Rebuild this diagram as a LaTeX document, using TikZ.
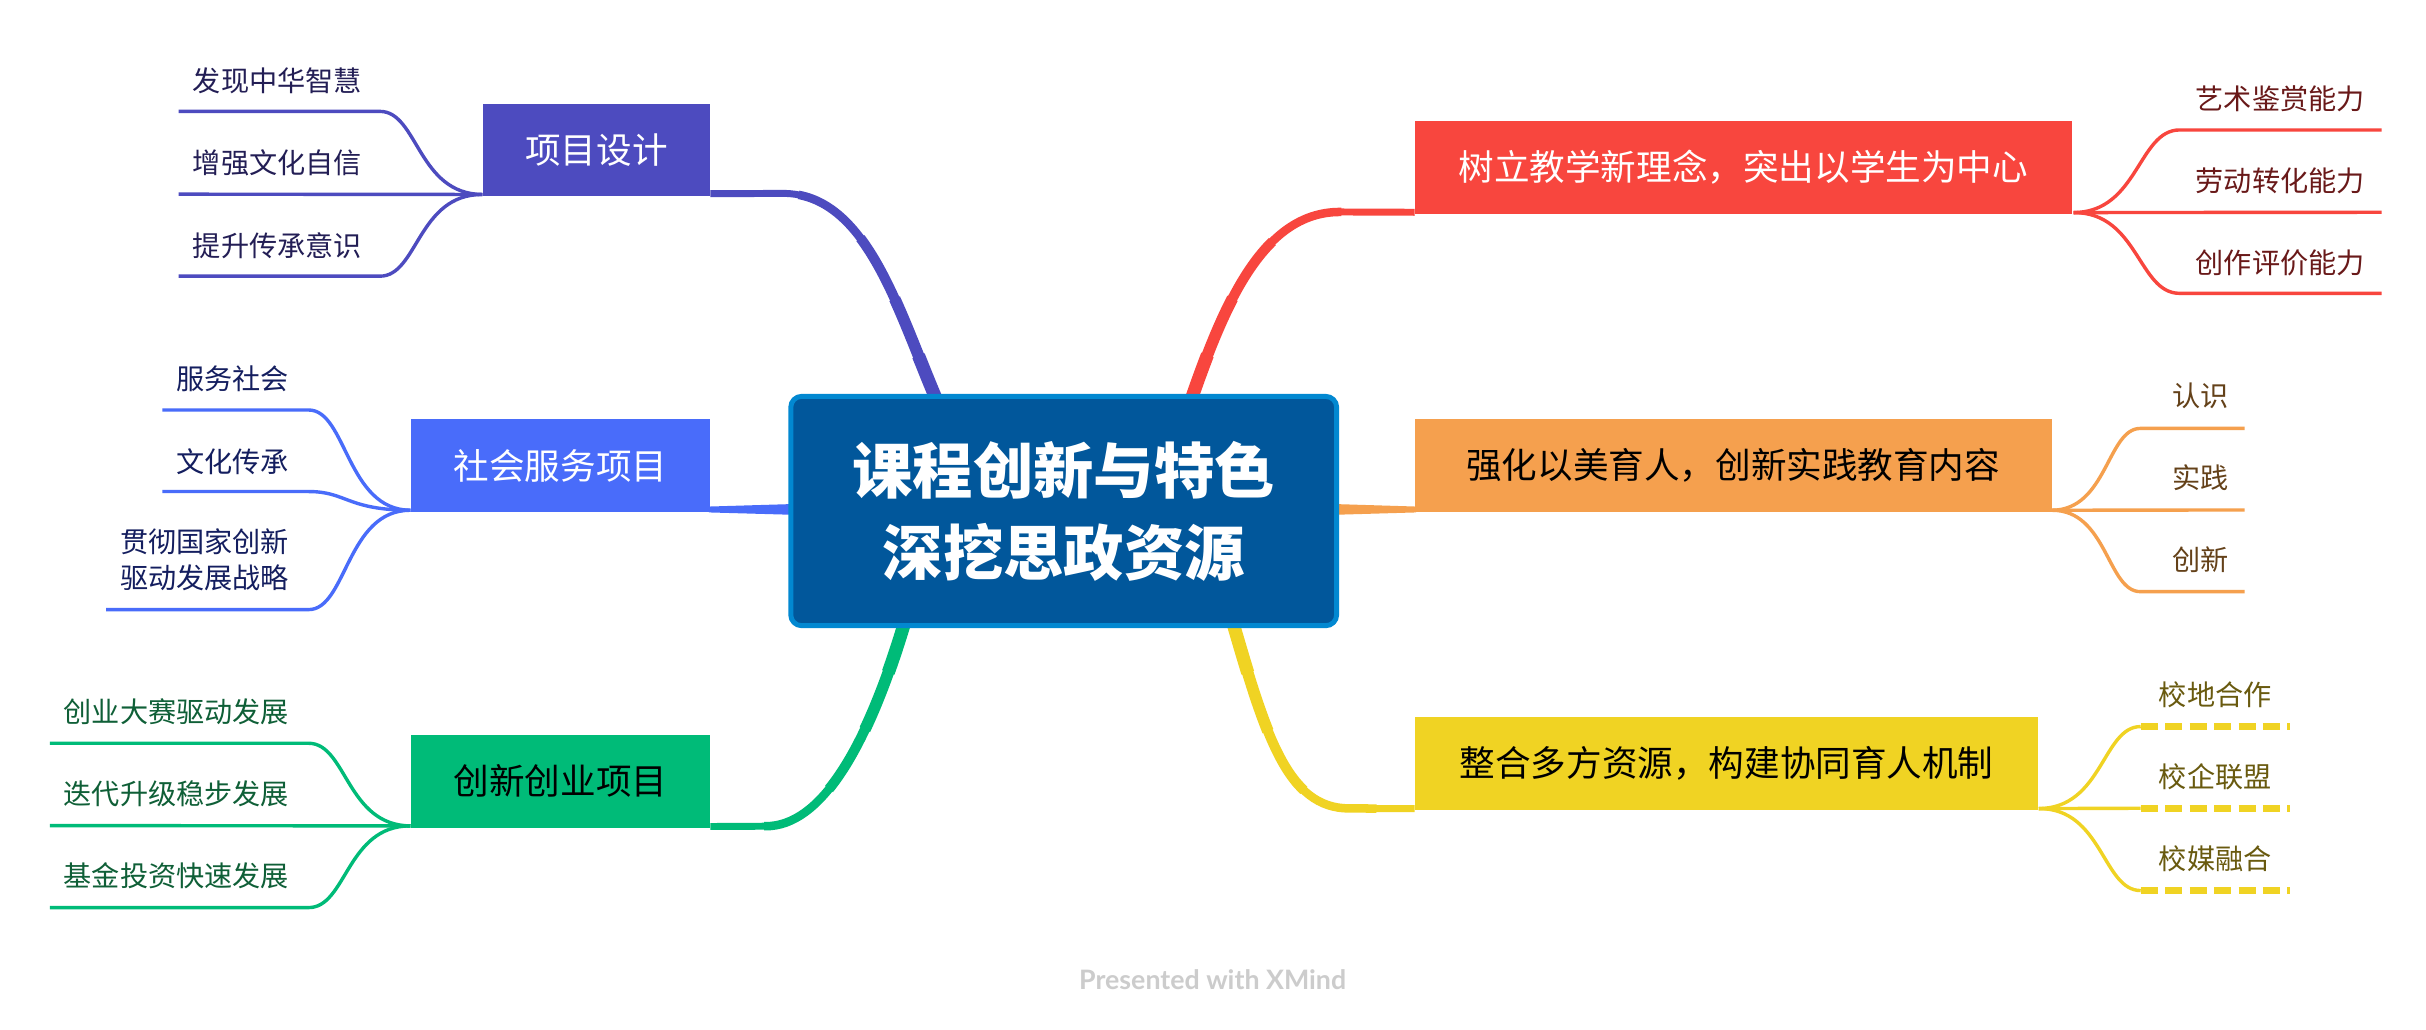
\documentclass[tikz,border=0pt]{standalone}
\usepackage{fontspec}
\newfontfamily\cjk{Noto Sans CJK SC}
\newfontfamily\footfont{Lato}
\usetikzlibrary{calc}
\definecolor{cPur}{RGB}{77,75,191}
\definecolor{cBlu}{RGB}{73,108,250}
\definecolor{cGrn}{RGB}{0,187,120}
\definecolor{cRed}{RGB}{248,70,62}
\definecolor{cOrg}{RGB}{245,160,78}
\definecolor{cYel}{RGB}{240,211,35}
\definecolor{cCenF}{RGB}{1,87,155}
\definecolor{cCenB}{RGB}{2,136,209}
\definecolor{tPur}{RGB}{35,30,85}
\definecolor{tBlu}{RGB}{20,30,95}
\definecolor{tGrn}{RGB}{15,95,55}
\definecolor{tRed}{RGB}{105,25,25}
\definecolor{tOrg}{RGB}{100,65,25}
\definecolor{tYel}{RGB}{105,90,15}
\definecolor{cFoot}{RGB}{204,204,204}
\newcommand\taperdraw[2]{%
  \draw[#1,line width=4.5pt] #2;
  \draw[#1,line width=5.5pt,dash pattern=on 170pt off 3000pt] #2;
  \draw[#1,line width=6.5pt,dash pattern=on 120pt off 3000pt] #2;
  \draw[#1,line width=7.5pt,dash pattern=on 75pt off 3000pt] #2;
  \draw[#1,line width=8.5pt,dash pattern=on 35pt off 3000pt] #2;}
\begin{document}
\begin{tikzpicture}[x=1pt,y=-1pt,line join=round,
  topic/.style={rectangle,fill=#1,minimum height=60pt,inner sep=0pt,
    font=\cjk\fontsize{23}{28}\selectfont},
  subt/.style={inner sep=0pt,align=right,font=\cjk\fontsize{18.2}{23.2}\selectfont},
  subline/.style={draw=#1,line width=2.2pt},
  dashline/.style={draw=#1,line width=4.3pt,dash pattern=on 11pt off 4.8pt}]
\fill[white] (0,0) rectangle (1568,665.7);
\useasboundingbox (0,0) rectangle (1568,665.7);

% main topics
\node[topic=cPur,minimum width=147pt,text=white] (T1) at (385.5,97) {项目设计};
\node[topic=cBlu,minimum width=193.5pt,text=white] (T2) at (362.25,301) {社会服务项目};
\node[topic=cGrn,minimum width=193.5pt,text=black] (T3) at (362.25,505) {创新创业项目};
\node[topic=cRed,minimum width=424.5pt,text=white] (T4) at (1126.75,108) {树立教学新理念，突出以学生为中心};
\node[topic=cOrg,minimum width=411.5pt,text=black] (T5) at (1120.25,301) {强化以美育人，创新实践教育内容};
\node[topic=cYel,minimum width=403pt,text=black] (T6) at (1116,493.5) {整合多方资源，构建协同育人机制};

% central node placeholder coordinates (node drawn later, on top)
\path (687.5,330.3) coordinate (Cc);
\coordinate (s1) at ($(Cc)+(-80.5,-68)$);
\coordinate (s4) at ($(Cc)+(81,-68)$);
\coordinate (s3) at ($(Cc)+(-102.5,71)$);
\coordinate (s6) at ($(Cc)+(109,71)$);

% main connectors
\taperdraw{cPur}{(s1) .. controls (581,203) and (561,125) .. (506,125) -- ($(T1.south east)+(0,-2)$)}
\taperdraw{cRed}{(s4) .. controls (790,200) and (815,137) .. (866,137) -- ($(T4.south west)+(0,-1)$)}
\taperdraw{cGrn}{(s3) .. controls (560,485) and (530,534) .. (495,534) -- ($(T3.south east)+(0,-1)$)}
\taperdraw{cYel}{(s6) .. controls (818,475) and (832,522.5) .. (872,522.5) -- ($(T6.south west)+(0,-1)$)}
\fill[cBlu] ($(T2.south east)+(-1,0)$) -- ($(T2.south east)+(-1,-3.8)$) -- (515,325.7) -- (515,332.8) -- cycle;
\fill[cOrg] ($(T5.south west)+(1,0)$) -- ($(T5.south west)+(1,-3.8)$) -- (860,325.7) -- (860,332.8) -- cycle;

% central node
\node[draw=cCenB,fill=cCenF,line width=3.2pt,rounded corners=7pt,
  minimum width=352.8pt,minimum height=148.2pt,inner sep=0pt,align=center,
  text=white,font=\cjk\bfseries\fontsize{39}{53}\selectfont] (C) at (Cc)
  {课程创新与特色\\深挖思政资源};

% T1 subtopics
\coordinate (j1) at ($(T1.south west)+(0,-1.5)$);
\coordinate (e11) at (115.4,72);
\coordinate (e12) at (115.4,125.5);
\coordinate (e13) at (115.4,178.5);
\draw[subline=cPur] (j1) .. controls (270,125.5) and (270,72) .. (245.6,72) -- (e11);
\draw[subline=cPur] (j1) -- (e12);
\draw[subline=cPur] (j1) .. controls (270,125.5) and (270,178.5) .. (245.6,178.5) -- (e13);
\node[subt,text=tPur,anchor=west] (a11) at (124.5,52) {发现中华智慧};
\node[subt,text=tPur,anchor=west] (a12) at (124.5,105.5) {增强文化自信};
\node[subt,text=tPur,anchor=west] (a13) at (124.5,158.5) {提升传承意识};

% T2 subtopics
\coordinate (j2) at ($(T2.south west)+(0,-1.4)$);
\coordinate (e21) at (104.9,265);
\coordinate (e22) at (104.9,317.7);
\coordinate (e23) at (68.6,394);
\draw[subline=cBlu] (j2) .. controls (224,329.6) and (224,265) .. (199.5,265) -- (e21);
\draw[subline=cBlu] (j2) .. controls (224,329.6) and (224,317.7) .. (199.5,317.7) -- (e22);
\draw[subline=cBlu] (j2) .. controls (224,329.6) and (224,394) .. (199.5,394) -- (e23);
\node[subt,text=tBlu,anchor=east] (a21) at (187,244.5) {服务社会};
\node[subt,text=tBlu,anchor=east] (a22) at (187,298.5) {文化传承};
\node[subt,text=tBlu,anchor=east] (a23) at (187,362) {贯彻国家创新\\驱动发展战略};

% T3 subtopics
\coordinate (j3) at ($(T3.south west)+(0,-1.4)$);
\coordinate (e31) at (32.3,480.4);
\coordinate (e32) at (32.3,533.6);
\coordinate (e33) at (32.3,586.6);
\draw[subline=cGrn] (j3) .. controls (224,533.6) and (224,480.4) .. (199.5,480.4) -- (e31);
\draw[subline=cGrn] (j3) -- (e32);
\draw[subline=cGrn] (j3) .. controls (224,533.6) and (224,586.6) .. (199.5,586.6) -- (e33);
\node[subt,text=tGrn,anchor=east] (a31) at (187,460) {创业大赛驱动发展};
\node[subt,text=tGrn,anchor=east] (a32) at (187,513) {迭代升级稳步发展};
\node[subt,text=tGrn,anchor=east] (a33) at (187,566) {基金投资快速发展};

% T4 subtopics
\coordinate (j4) at ($(T4.south east)+(1,-0.8)$);
\coordinate (e41) at (1539.3,84);
\coordinate (e42) at (1539.3,137.2);
\coordinate (e43) at (1539.3,189.6);
\draw[subline=cRed] (j4) .. controls (1382,137.2) and (1382,84) .. (1408.7,84) -- (e41);
\draw[subline=cRed] (j4) -- (e42);
\draw[subline=cRed] (j4) .. controls (1382,137.2) and (1382,189.6) .. (1408.7,189.6) -- (e43);
\node[subt,text=tRed,anchor=west] (a41) at (1419,63.8) {艺术鉴赏能力};
\node[subt,text=tRed,anchor=west] (a42) at (1419,116.7) {劳动转化能力};
\node[subt,text=tRed,anchor=west] (a43) at (1419,169.7) {创作评价能力};

% T5 subtopics
\coordinate (j5) at ($(T5.south east)+(0,-1.4)$);
\coordinate (e51) at (1450.8,276.9);
\coordinate (e52) at (1450.8,329.6);
\coordinate (e53) at (1450.8,382.4);
\draw[subline=cOrg] (j5) .. controls (1362,329.6) and (1362,276.9) .. (1383.4,276.9) -- (e51);
\draw[subline=cOrg] (j5) -- (e52);
\draw[subline=cOrg] (j5) .. controls (1362,329.6) and (1362,382.4) .. (1383.4,382.4) -- (e53);
\node[subt,text=tOrg,anchor=west] (a51) at (1403.8,255.8) {认识};
\node[subt,text=tOrg,anchor=west] (a52) at (1403.8,309) {实践};
\node[subt,text=tOrg,anchor=west] (a53) at (1403.8,361.8) {创新};

% T6 subtopics
\coordinate (j6) at ($(T6.south east)+(0,-1.1)$);
\coordinate (k61) at (1383.6,469.6);
\coordinate (k62) at (1383.6,522.4);
\coordinate (k63) at (1383.6,575.6);
\coordinate (e61) at (1480.4,469.6);
\coordinate (e62) at (1480.4,522.4);
\coordinate (e63) at (1480.4,575.6);
\draw[subline=cYel] (j6) .. controls (1359,522.4) and (1359,469.6) .. (k61);
\draw[subline=cYel] (j6) -- (k62);
\draw[subline=cYel] (j6) .. controls (1359,522.4) and (1359,575.6) .. (k63);
\draw[dashline=cYel] (k61) -- (e61);
\draw[dashline=cYel] (k62) -- (e62);
\draw[dashline=cYel] (k63) -- (e63);
\node[subt,text=tYel,anchor=west] (a61) at (1395.2,449) {校地合作};
\node[subt,text=tYel,anchor=west] (a62) at (1395.2,502) {校企联盟};
\node[subt,text=tYel,anchor=west] (a63) at (1395.2,555.3) {校媒融合};

% footer
\node[inner sep=0pt,text=cFoot,font=\footfont\bfseries\fontsize{17.3}{20}\selectfont] (ft) at (783.8,633) {Presented with XMind};
\end{tikzpicture}
\end{document}
